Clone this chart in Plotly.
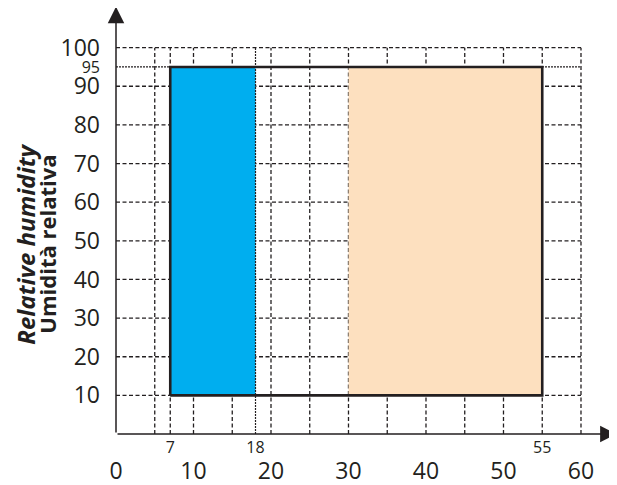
import plotly.graph_objects as go

# ---- data ----
x_tick_vals = [0, 10, 20, 30, 40, 50, 60]
y_tick_vals = [10, 20, 30, 40, 50, 60, 70, 80, 90, 100]
x_marks = [7, 18, 55]
y_marks = [95]
grid_x = [5, 7, 10, 15, 20, 25, 30, 35, 40, 45, 50, 55, 60]
grid_y = [10, 20, 30, 40, 50, 60, 70, 80, 90, 100]
blue_range = [7, 18]
orange_range = [30, 55]
humidity_range = [10, 95]
x_limit = 60
y_limit = 100

INK = "#231f20"
FONT = "Open Sans"

fig = go.Figure()

# dashed grid
gx, gy = [], []
for v in grid_x:
    gx += [v, v, None]
    gy += [0, y_limit, None]
for v in grid_y:
    gx += [0, x_limit, None]
    gy += [v, v, None]
fig.add_trace(go.Scatter(x=gx, y=gy, mode="lines", hoverinfo="skip",
                         line=dict(color=INK, width=1.3, dash="4px,2.5px")))
# fine dashed line at 95
fig.add_trace(go.Scatter(x=[0, x_limit], y=[y_marks[0], y_marks[0]], mode="lines",
                         hoverinfo="skip", line=dict(color=INK, width=1.2, dash="2px,1px")))

# fills
def rect(xr, yr):
    return [xr[0], xr[1], xr[1], xr[0], xr[0]], [yr[0], yr[0], yr[1], yr[1], yr[0]]

bx, by = rect(blue_range, humidity_range)
fig.add_trace(go.Scatter(x=bx, y=by, mode="lines", fill="toself", fillcolor="#00aeef",
                         line=dict(width=0), hoverinfo="skip"))
ox, oy = rect(orange_range, humidity_range)
fig.add_trace(go.Scatter(x=ox, y=oy, mode="lines", fill="toself", fillcolor="#fde0bf",
                         line=dict(width=0), hoverinfo="skip"))
# outline
tx, ty = rect([blue_range[0], orange_range[1]], humidity_range)
fig.add_trace(go.Scatter(x=tx, y=ty, mode="lines", hoverinfo="skip",
                         line=dict(color=INK, width=2.6)))
# fine dotted line at 18 on top
fig.add_trace(go.Scatter(x=[blue_range[1], blue_range[1]], y=[0, y_limit], mode="lines",
                         hoverinfo="skip", line=dict(color=INK, width=1.2, dash="2px,1px")))

# secondary axes carriers
fig.add_trace(go.Scatter(x=[x_marks[0]], y=[y_marks[0]], xaxis="x2", yaxis="y2",
                         mode="markers", marker=dict(opacity=0), hoverinfo="skip"))

xr = [0, 64.26]
yr = [0, 110]
# page body has an 8px margin, so the figure is 8px smaller and shifted
fig.update_layout(
    width=609, height=477,
    margin=dict(l=108, r=3, t=1, b=51, autoexpand=False),
    plot_bgcolor="white", paper_bgcolor="white",
    showlegend=False,
    font=dict(family=FONT, color=INK),
    xaxis=dict(range=xr, tickvals=x_tick_vals, showgrid=False, zeroline=False,
               showline=False, ticks="", tickfont=dict(size=23, color=INK),
               ticklabelstandoff=21, fixedrange=True),
    xaxis2=dict(range=xr, overlaying="x", anchor="y", side="bottom", tickvals=x_marks,
                showgrid=False, zeroline=False, showline=False, ticks="",
                tickfont=dict(size=16, color=INK), ticklabelstandoff=2),
    yaxis=dict(range=yr, tickvals=y_tick_vals, showgrid=False, zeroline=False,
               showline=False, ticks="", tickfont=dict(size=23, color=INK),
               ticklabelstandoff=15, fixedrange=True),
    yaxis2=dict(range=yr, overlaying="y", anchor="x", side="left", tickvals=y_marks,
                showgrid=False, zeroline=False, showline=False, ticks="",
                tickfont=dict(size=16, color=INK), ticklabelstandoff=15),
)

# axes with arrows
fig.add_annotation(x=64.6, y=0, ax=0, ay=0, xref="x", yref="y", axref="x", ayref="y",
                   text="", showarrow=True, arrowhead=2, arrowsize=2.2, arrowwidth=1.5,
                   arrowcolor=INK)
fig.add_annotation(x=0, y=110.6, ax=0, ay=0, xref="x", yref="y", axref="x", ayref="y",
                   text="", showarrow=True, arrowhead=2, arrowsize=2.2, arrowwidth=1.5,
                   arrowcolor=INK)

# y title (two lines)
ty_paper = (434.3 - 245) / 425
fig.add_annotation(x=(26 - 116) / 498, y=ty_paper, xref="paper", yref="paper",
                   text="<b><i>Relative humidity</i></b>",
                   textangle=-90, showarrow=False, xanchor="center", yanchor="middle",
                   font=dict(size=24, color=INK, family=FONT))
fig.add_annotation(x=(47 - 116) / 498, y=ty_paper, xref="paper", yref="paper",
                   text="<b>Umidità relativa</b>",
                   textangle=-90, showarrow=False, xanchor="center", yanchor="middle",
                   font=dict(size=22, color=INK, family=FONT))

fig.write_html("out.html")
